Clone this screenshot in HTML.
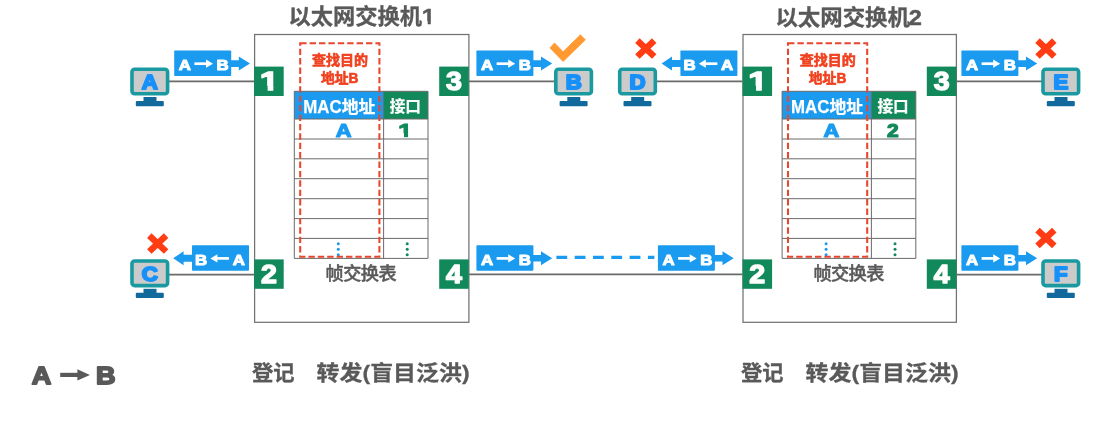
<!DOCTYPE html>
<html lang="zh-CN"><head><meta charset="utf-8"><title>以太网交换机 帧交换表</title>
<style>
html,body{margin:0;padding:0;background:#fff;}
body{width:1094px;height:442px;overflow:hidden;font-family:"Liberation Sans","Noto Sans CJK SC",sans-serif;}
text{font-family:"Liberation Sans","Noto Sans CJK SC",sans-serif;}
svg{display:block;position:absolute;left:0;top:0;filter:blur(0.5px);}
</style></head><body>
<svg width="1094" height="442" viewBox="0 0 1094 442">
<rect width="1094" height="442" fill="#fff"/>
<path d="M168 81.4H254.0" stroke="#6a6a6a" stroke-width="1.6" fill="none"/>
<path d="M168 274.6H254.0" stroke="#6a6a6a" stroke-width="1.6" fill="none"/>
<path d="M469.0 81.4H556" stroke="#6a6a6a" stroke-width="1.6" fill="none"/>
<path d="M469.0 274.4H742.4" stroke="#6a6a6a" stroke-width="1.6" fill="none"/>
<path d="M656 81.4H742.4" stroke="#6a6a6a" stroke-width="1.6" fill="none"/>
<path d="M955.4 81.4H1043" stroke="#6a6a6a" stroke-width="1.6" fill="none"/>
<path d="M955.4 274.6H1043" stroke="#6a6a6a" stroke-width="1.6" fill="none"/>
<rect x="254.6" y="34.5" width="214.3" height="287.8" fill="#fff" stroke="#727272" stroke-width="1.25"/>
<text x="288.50" y="24.4" font-weight="700" font-size="21.5" fill="#595959" stroke="#595959" stroke-width="0.3" textLength="133.5" lengthAdjust="spacingAndGlyphs">以太网交换机</text>
<clipPath id="k1"><path d="M-8.72 -19.62H1.87V0.55H-0.82V-3.47H-8.72Z"/></clipPath>
<g transform="translate(428.65 24.40) scale(1.150 1)"><text clip-path="url(#k1)" x="0" y="0" text-anchor="middle" font-weight="700" font-size="21.8" fill="#595959" stroke="#595959" stroke-width="0.5" stroke-linejoin="round">1</text></g>
<rect x="294.3" y="91.3" width="89.3" height="27.700000000000003" fill="#1a9bf0"/>
<rect x="383.6" y="91.3" width="44.39999999999999" height="27.700000000000003" fill="#12895a"/>
<text x="339.3" y="112.7" text-anchor="middle" font-weight="700" font-size="17.5" fill="#fff" stroke="#fff" stroke-width="0.25" textLength="72" lengthAdjust="spacingAndGlyphs">MAC地址</text>
<text x="405.3" y="112.1" text-anchor="middle" font-weight="700" font-size="15.5" fill="#fff" stroke="#fff" stroke-width="0.25" textLength="31.3" lengthAdjust="spacingAndGlyphs">接口</text>
<path d="M294.3 119H428.0M294.3 139H428.0M294.3 158.8H428.0M294.3 178.7H428.0M294.3 198.7H428.0M294.3 218.6H428.0M294.3 238.4H428.0M294.3 258.4H428.0M294.3 91.3V258.4M383.6 91.3V258.4M428.0 91.3V258.4M294.3 91.3H428.0" stroke="#6a6a6a" stroke-width="1" fill="none"/>
<text transform="translate(343.60 136.70) scale(1.2 1)" x="0" y="0" text-anchor="middle" font-weight="700" font-size="18.2" fill="#1a9bf0" stroke="#1a9bf0" stroke-width="1.2" stroke-linejoin="round">A</text>
<clipPath id="k2"><path d="M-7.28 -16.38H1.88V0.90H-1.01V-3.46H-7.28Z"/></clipPath>
<g transform="translate(405.45 136.70) scale(1.438 1)"><text clip-path="url(#k2)" x="0" y="0" text-anchor="middle" font-weight="700" font-size="18.2" fill="#12895a" stroke="#12895a" stroke-width="1.2" stroke-linejoin="round">1</text></g>
<circle cx="338.3" cy="243.7" r="1.5" fill="#1a9bf0"/>
<circle cx="407.20000000000005" cy="243.7" r="1.5" fill="#12895a"/>
<circle cx="338.3" cy="249.2" r="1.5" fill="#1a9bf0"/>
<circle cx="407.20000000000005" cy="249.2" r="1.5" fill="#12895a"/>
<circle cx="338.3" cy="254.7" r="1.5" fill="#1a9bf0"/>
<circle cx="407.20000000000005" cy="254.7" r="1.5" fill="#12895a"/>
<rect x="300.2" y="43.3" width="79.2" height="213.4" fill="none" stroke="#e8462e" stroke-width="2.05" stroke-dasharray="6.4 3"/>
<text x="340.0" y="65.2" text-anchor="middle" font-weight="700" font-size="14" fill="#f0411f" stroke="#f0411f" stroke-width="0.6" textLength="56" lengthAdjust="spacingAndGlyphs">查找目的</text>
<text x="339.8" y="83.2" text-anchor="middle" font-weight="700" font-size="14" fill="#f0411f" stroke="#f0411f" stroke-width="0.6" textLength="37.5" lengthAdjust="spacingAndGlyphs">地址B</text>
<text x="361.1" y="280.4" text-anchor="middle" font-weight="500" font-size="18.2" fill="#595959" stroke="#595959" stroke-width="0.45" textLength="71" lengthAdjust="spacing">帧交换表</text>
<rect x="743.0" y="34.5" width="213.4" height="287.8" fill="#fff" stroke="#727272" stroke-width="1.25"/>
<text x="775.40" y="24.5" font-weight="700" font-size="21.6" fill="#595959" stroke="#595959" stroke-width="0.3" textLength="134.6" lengthAdjust="spacingAndGlyphs">以太网交换机</text>
<text transform="translate(915.30 24.50) scale(1.08 1)" x="0" y="0" text-anchor="middle" font-weight="700" font-size="21.8" fill="#595959" stroke="#595959" stroke-width="0.5" stroke-linejoin="round">2</text>
<rect x="782.0999999999999" y="91.3" width="89.3" height="27.700000000000003" fill="#1a9bf0"/>
<rect x="871.3999999999999" y="91.3" width="44.39999999999999" height="27.700000000000003" fill="#12895a"/>
<text x="827.0999999999999" y="112.7" text-anchor="middle" font-weight="700" font-size="17.5" fill="#fff" stroke="#fff" stroke-width="0.25" textLength="72" lengthAdjust="spacingAndGlyphs">MAC地址</text>
<text x="893.0999999999999" y="112.1" text-anchor="middle" font-weight="700" font-size="15.5" fill="#fff" stroke="#fff" stroke-width="0.25" textLength="31.3" lengthAdjust="spacingAndGlyphs">接口</text>
<path d="M782.0999999999999 119H915.8M782.0999999999999 139H915.8M782.0999999999999 158.8H915.8M782.0999999999999 178.7H915.8M782.0999999999999 198.7H915.8M782.0999999999999 218.6H915.8M782.0999999999999 238.4H915.8M782.0999999999999 258.4H915.8M782.0999999999999 91.3V258.4M871.3999999999999 91.3V258.4M915.8 91.3V258.4M782.0999999999999 91.3H915.8" stroke="#6a6a6a" stroke-width="1" fill="none"/>
<text transform="translate(831.40 136.70) scale(1.2 1)" x="0" y="0" text-anchor="middle" font-weight="700" font-size="18.2" fill="#1a9bf0" stroke="#1a9bf0" stroke-width="1.2" stroke-linejoin="round">A</text>
<text transform="translate(892.70 136.70) scale(1.15 1)" x="0" y="0" text-anchor="middle" font-weight="700" font-size="18.2" fill="#12895a" stroke="#12895a" stroke-width="1.2" stroke-linejoin="round">2</text>
<circle cx="826.0999999999999" cy="243.7" r="1.5" fill="#1a9bf0"/>
<circle cx="894.9999999999999" cy="243.7" r="1.5" fill="#12895a"/>
<circle cx="826.0999999999999" cy="249.2" r="1.5" fill="#1a9bf0"/>
<circle cx="894.9999999999999" cy="249.2" r="1.5" fill="#12895a"/>
<circle cx="826.0999999999999" cy="254.7" r="1.5" fill="#1a9bf0"/>
<circle cx="894.9999999999999" cy="254.7" r="1.5" fill="#12895a"/>
<rect x="788.0" y="43.3" width="79.2" height="213.4" fill="none" stroke="#e8462e" stroke-width="2.05" stroke-dasharray="6.4 3"/>
<text x="827.8" y="65.2" text-anchor="middle" font-weight="700" font-size="14" fill="#f0411f" stroke="#f0411f" stroke-width="0.6" textLength="56" lengthAdjust="spacingAndGlyphs">查找目的</text>
<text x="827.5999999999999" y="83.2" text-anchor="middle" font-weight="700" font-size="14" fill="#f0411f" stroke="#f0411f" stroke-width="0.6" textLength="37.5" lengthAdjust="spacingAndGlyphs">地址B</text>
<text x="848.9" y="280.4" text-anchor="middle" font-weight="500" font-size="18.2" fill="#595959" stroke="#595959" stroke-width="0.45" textLength="71" lengthAdjust="spacing">帧交换表</text>
<rect x="254.1" y="66.6" width="29.6" height="29.4" fill="#12895a"/>
<clipPath id="k3"><path d="M-10.60 -23.85H2.75V1.00H-1.48V-4.40H-10.60Z"/></clipPath>
<g transform="translate(269.69 90.30) scale(1.350 1)"><text clip-path="url(#k3)" x="0" y="0" text-anchor="middle" font-weight="700" font-size="26.5" fill="#fff" stroke="#fff" stroke-width="1.4" stroke-linejoin="round">1</text></g>
<rect x="254.1" y="259.4" width="29.6" height="29.4" fill="#12895a"/>
<text transform="translate(268.90 283.10) scale(1.08 1)" x="0" y="0" text-anchor="middle" font-weight="700" font-size="26.5" fill="#fff" stroke="#fff" stroke-width="1.4" stroke-linejoin="round">2</text>
<rect x="439.2" y="66.6" width="29.6" height="29.4" fill="#12895a"/>
<text transform="translate(454.00 90.30) scale(1.08 1)" x="0" y="0" text-anchor="middle" font-weight="700" font-size="26.5" fill="#fff" stroke="#fff" stroke-width="1.4" stroke-linejoin="round">3</text>
<rect x="439.2" y="259.4" width="29.6" height="29.4" fill="#12895a"/>
<text transform="translate(454.00 283.10) scale(1.08 1)" x="0" y="0" text-anchor="middle" font-weight="700" font-size="26.5" fill="#fff" stroke="#fff" stroke-width="1.4" stroke-linejoin="round">4</text>
<rect x="742.5" y="66.6" width="29.6" height="29.4" fill="#12895a"/>
<clipPath id="k4"><path d="M-10.60 -23.85H2.75V1.00H-1.48V-4.40H-10.60Z"/></clipPath>
<g transform="translate(758.09 90.30) scale(1.350 1)"><text clip-path="url(#k4)" x="0" y="0" text-anchor="middle" font-weight="700" font-size="26.5" fill="#fff" stroke="#fff" stroke-width="1.4" stroke-linejoin="round">1</text></g>
<rect x="742.5" y="259.4" width="29.6" height="29.4" fill="#12895a"/>
<text transform="translate(757.30 283.10) scale(1.08 1)" x="0" y="0" text-anchor="middle" font-weight="700" font-size="26.5" fill="#fff" stroke="#fff" stroke-width="1.4" stroke-linejoin="round">2</text>
<rect x="926.8" y="66.6" width="29.6" height="29.4" fill="#12895a"/>
<text transform="translate(941.60 90.30) scale(1.08 1)" x="0" y="0" text-anchor="middle" font-weight="700" font-size="26.5" fill="#fff" stroke="#fff" stroke-width="1.4" stroke-linejoin="round">3</text>
<rect x="926.8" y="259.4" width="29.6" height="29.4" fill="#12895a"/>
<text transform="translate(941.60 283.10) scale(1.08 1)" x="0" y="0" text-anchor="middle" font-weight="700" font-size="26.5" fill="#fff" stroke="#fff" stroke-width="1.4" stroke-linejoin="round">4</text>
<g transform="translate(130.2,67.4)">
<rect x="1.8" y="1.8" width="35.6" height="24.6" rx="2.6" fill="#cbcbcb" stroke="#1a9aa0" stroke-width="3.6"/>
<rect x="13.3" y="29.6" width="13" height="4.6" fill="#126a9c"/>
<rect x="5.6" y="33.6" width="28" height="5.2" rx="1" fill="#126a9c"/>
<text transform="translate(19.70 21.30) scale(1.06 1)" x="0" y="0" text-anchor="middle" font-weight="700" font-size="21" fill="#1890fa" stroke="#1890fa" stroke-width="2.0" stroke-linejoin="round">A</text>
</g>
<g transform="translate(130.2,259.2)">
<rect x="1.8" y="1.8" width="35.6" height="24.6" rx="2.6" fill="#cbcbcb" stroke="#1a9aa0" stroke-width="3.6"/>
<rect x="13.3" y="29.6" width="13" height="4.6" fill="#126a9c"/>
<rect x="5.6" y="33.6" width="28" height="5.2" rx="1" fill="#126a9c"/>
<text transform="translate(19.70 21.30) scale(1.06 1)" x="0" y="0" text-anchor="middle" font-weight="700" font-size="21" fill="#1890fa" stroke="#1890fa" stroke-width="2.0" stroke-linejoin="round">C</text>
</g>
<g transform="translate(554,67.4)">
<rect x="1.8" y="1.8" width="35.6" height="24.6" rx="2.6" fill="#cbcbcb" stroke="#1a9aa0" stroke-width="3.6"/>
<rect x="13.3" y="29.6" width="13" height="4.6" fill="#126a9c"/>
<rect x="5.6" y="33.6" width="28" height="5.2" rx="1" fill="#126a9c"/>
<text transform="translate(19.70 21.30) scale(1.06 1)" x="0" y="0" text-anchor="middle" font-weight="700" font-size="21" fill="#1890fa" stroke="#1890fa" stroke-width="2.0" stroke-linejoin="round">B</text>
</g>
<g transform="translate(617.9,67.4)">
<rect x="1.8" y="1.8" width="35.6" height="24.6" rx="2.6" fill="#cbcbcb" stroke="#1a9aa0" stroke-width="3.6"/>
<rect x="13.3" y="29.6" width="13" height="4.6" fill="#126a9c"/>
<rect x="5.6" y="33.6" width="28" height="5.2" rx="1" fill="#126a9c"/>
<text transform="translate(19.70 21.30) scale(1.06 1)" x="0" y="0" text-anchor="middle" font-weight="700" font-size="21" fill="#1890fa" stroke="#1890fa" stroke-width="2.0" stroke-linejoin="round">D</text>
</g>
<g transform="translate(1041.2,67.4)">
<rect x="1.8" y="1.8" width="35.6" height="24.6" rx="2.6" fill="#cbcbcb" stroke="#1a9aa0" stroke-width="3.6"/>
<rect x="13.3" y="29.6" width="13" height="4.6" fill="#126a9c"/>
<rect x="5.6" y="33.6" width="28" height="5.2" rx="1" fill="#126a9c"/>
<text transform="translate(19.70 21.30) scale(1.06 1)" x="0" y="0" text-anchor="middle" font-weight="700" font-size="21" fill="#1890fa" stroke="#1890fa" stroke-width="2.0" stroke-linejoin="round">E</text>
</g>
<g transform="translate(1041.2,259.2)">
<rect x="1.8" y="1.8" width="35.6" height="24.6" rx="2.6" fill="#cbcbcb" stroke="#1a9aa0" stroke-width="3.6"/>
<rect x="13.3" y="29.6" width="13" height="4.6" fill="#126a9c"/>
<rect x="5.6" y="33.6" width="28" height="5.2" rx="1" fill="#126a9c"/>
<text transform="translate(19.70 21.30) scale(1.06 1)" x="0" y="0" text-anchor="middle" font-weight="700" font-size="21" fill="#1890fa" stroke="#1890fa" stroke-width="2.0" stroke-linejoin="round">F</text>
</g>
<rect x="174.2" y="50.5" width="57" height="25.6" rx="0.8" fill="#1a9bf0"/>
<path d="M230.2 60.20H238.80V56.50L250.00 63.60L238.80 70.60V66.90H230.2Z" fill="#1a9bf0"/>
<text transform="translate(184.80 70.20) scale(1.1 1)" x="0" y="0" text-anchor="middle" font-weight="700" font-size="15.3" fill="#fff" stroke="#fff" stroke-width="1.0" stroke-linejoin="round">A</text>
<text transform="translate(222.60 70.20) scale(1.1 1)" x="0" y="0" text-anchor="middle" font-weight="700" font-size="15.3" fill="#fff" stroke="#fff" stroke-width="1.0" stroke-linejoin="round">B</text>
<path d="M194.40 63.70H208.00" stroke="#fff" stroke-width="2.7" fill="none"/><path d="M206.00 59.60L213.00 63.70L206.00 67.80Z" fill="#fff"/>
<rect x="192" y="245.2" width="57" height="25.6" rx="0.8" fill="#1a9bf0"/>
<path d="M193 254.70H183.60V251.20L173.20 258.20L183.60 265.20V261.70H193Z" fill="#1a9bf0"/>
<text transform="translate(201.20 264.90) scale(1.1 1)" x="0" y="0" text-anchor="middle" font-weight="700" font-size="15.3" fill="#fff" stroke="#fff" stroke-width="1.0" stroke-linejoin="round">B</text>
<text transform="translate(238.80 264.90) scale(1.1 1)" x="0" y="0" text-anchor="middle" font-weight="700" font-size="15.3" fill="#fff" stroke="#fff" stroke-width="1.0" stroke-linejoin="round">A</text>
<path d="M229.00 258.40H215.40" stroke="#fff" stroke-width="2.7" fill="none"/><path d="M217.40 254.30L210.40 258.40L217.40 262.50Z" fill="#fff"/>
<rect x="476.4" y="50.5" width="57" height="25.6" rx="0.8" fill="#1a9bf0"/>
<path d="M532.4 60.20H541.00V56.50L552.20 63.60L541.00 70.60V66.90H532.4Z" fill="#1a9bf0"/>
<text transform="translate(487.00 70.20) scale(1.1 1)" x="0" y="0" text-anchor="middle" font-weight="700" font-size="15.3" fill="#fff" stroke="#fff" stroke-width="1.0" stroke-linejoin="round">A</text>
<text transform="translate(524.80 70.20) scale(1.1 1)" x="0" y="0" text-anchor="middle" font-weight="700" font-size="15.3" fill="#fff" stroke="#fff" stroke-width="1.0" stroke-linejoin="round">B</text>
<path d="M496.60 63.70H510.20" stroke="#fff" stroke-width="2.7" fill="none"/><path d="M508.20 59.60L515.20 63.70L508.20 67.80Z" fill="#fff"/>
<rect x="680.4" y="50.5" width="57" height="25.6" rx="0.8" fill="#1a9bf0"/>
<path d="M681.4 60.00H672.00V56.50L661.60 63.50L672.00 70.50V67.00H681.4Z" fill="#1a9bf0"/>
<text transform="translate(689.60 70.20) scale(1.1 1)" x="0" y="0" text-anchor="middle" font-weight="700" font-size="15.3" fill="#fff" stroke="#fff" stroke-width="1.0" stroke-linejoin="round">B</text>
<text transform="translate(727.20 70.20) scale(1.1 1)" x="0" y="0" text-anchor="middle" font-weight="700" font-size="15.3" fill="#fff" stroke="#fff" stroke-width="1.0" stroke-linejoin="round">A</text>
<path d="M717.40 63.70H703.80" stroke="#fff" stroke-width="2.7" fill="none"/><path d="M705.80 59.60L698.80 63.70L705.80 67.80Z" fill="#fff"/>
<rect x="476.4" y="245.2" width="57" height="25.6" rx="0.8" fill="#1a9bf0"/>
<path d="M532.4 254.90H541.00V251.20L552.20 258.30L541.00 265.30V261.60H532.4Z" fill="#1a9bf0"/>
<text transform="translate(487.00 264.90) scale(1.1 1)" x="0" y="0" text-anchor="middle" font-weight="700" font-size="15.3" fill="#fff" stroke="#fff" stroke-width="1.0" stroke-linejoin="round">A</text>
<text transform="translate(524.80 264.90) scale(1.1 1)" x="0" y="0" text-anchor="middle" font-weight="700" font-size="15.3" fill="#fff" stroke="#fff" stroke-width="1.0" stroke-linejoin="round">B</text>
<path d="M496.60 258.40H510.20" stroke="#fff" stroke-width="2.7" fill="none"/><path d="M508.20 254.30L515.20 258.40L508.20 262.50Z" fill="#fff"/>
<rect x="657.9" y="245.2" width="57" height="25.6" rx="0.8" fill="#1a9bf0"/>
<path d="M713.9 254.90H722.50V251.20L733.70 258.30L722.50 265.30V261.60H713.9Z" fill="#1a9bf0"/>
<text transform="translate(668.50 264.90) scale(1.1 1)" x="0" y="0" text-anchor="middle" font-weight="700" font-size="15.3" fill="#fff" stroke="#fff" stroke-width="1.0" stroke-linejoin="round">A</text>
<text transform="translate(706.30 264.90) scale(1.1 1)" x="0" y="0" text-anchor="middle" font-weight="700" font-size="15.3" fill="#fff" stroke="#fff" stroke-width="1.0" stroke-linejoin="round">B</text>
<path d="M678.10 258.40H691.70" stroke="#fff" stroke-width="2.7" fill="none"/><path d="M689.70 254.30L696.70 258.40L689.70 262.50Z" fill="#fff"/>
<rect x="961.4" y="50.5" width="57" height="25.6" rx="0.8" fill="#1a9bf0"/>
<path d="M1017.4 60.20H1026.00V56.50L1037.20 63.60L1026.00 70.60V66.90H1017.4Z" fill="#1a9bf0"/>
<text transform="translate(972.00 70.20) scale(1.1 1)" x="0" y="0" text-anchor="middle" font-weight="700" font-size="15.3" fill="#fff" stroke="#fff" stroke-width="1.0" stroke-linejoin="round">A</text>
<text transform="translate(1009.80 70.20) scale(1.1 1)" x="0" y="0" text-anchor="middle" font-weight="700" font-size="15.3" fill="#fff" stroke="#fff" stroke-width="1.0" stroke-linejoin="round">B</text>
<path d="M981.60 63.70H995.20" stroke="#fff" stroke-width="2.7" fill="none"/><path d="M993.20 59.60L1000.20 63.70L993.20 67.80Z" fill="#fff"/>
<rect x="961.4" y="245.2" width="57" height="25.6" rx="0.8" fill="#1a9bf0"/>
<path d="M1017.4 254.90H1026.00V251.20L1037.20 258.30L1026.00 265.30V261.60H1017.4Z" fill="#1a9bf0"/>
<text transform="translate(972.00 264.90) scale(1.1 1)" x="0" y="0" text-anchor="middle" font-weight="700" font-size="15.3" fill="#fff" stroke="#fff" stroke-width="1.0" stroke-linejoin="round">A</text>
<text transform="translate(1009.80 264.90) scale(1.1 1)" x="0" y="0" text-anchor="middle" font-weight="700" font-size="15.3" fill="#fff" stroke="#fff" stroke-width="1.0" stroke-linejoin="round">B</text>
<path d="M981.60 258.40H995.20" stroke="#fff" stroke-width="2.7" fill="none"/><path d="M993.20 254.30L1000.20 258.40L993.20 262.50Z" fill="#fff"/>
<path d="M556.4 257.4H654.4" stroke="#1a9bf0" stroke-width="3.1" stroke-dasharray="10.8 7.5" fill="none"/>
<path d="M149.30 235.70L166.10 251.50M166.10 235.70L149.30 251.50" stroke="#ff3c14" stroke-width="6.5" fill="none"/>
<path d="M637.40 40.70L654.20 56.50M654.20 40.70L637.40 56.50" stroke="#ff3c14" stroke-width="6.5" fill="none"/>
<path d="M1037.50 40.70L1054.30 56.50M1054.30 40.70L1037.50 56.50" stroke="#ff3c14" stroke-width="6.5" fill="none"/>
<path d="M1037.50 230.10L1054.30 245.90M1054.30 230.10L1037.50 245.90" stroke="#ff3c14" stroke-width="6.5" fill="none"/>
<path d="M554.5 42.9L549.9 47.9L563.1 61.5L585.4 39.8L580.4 34.8L563.1 51.8Z" fill="#ff9a33" stroke="#ff9a33" stroke-width="0.8" stroke-linejoin="round"/>
<text transform="translate(41.40 384.10) scale(1.1 1)" x="0" y="0" text-anchor="middle" font-weight="700" font-size="24.6" fill="#595959" stroke="#595959" stroke-width="1.8" stroke-linejoin="round">A</text>
<text transform="translate(105.80 384.10) scale(1.1 1)" x="0" y="0" text-anchor="middle" font-weight="700" font-size="24.6" fill="#595959" stroke="#595959" stroke-width="1.8" stroke-linejoin="round">B</text>
<path d="M60.2 374.9H80" stroke="#595959" stroke-width="4.2" fill="none"/><path d="M77.4 369.2L89.9 374.9L77.4 380.6Z" fill="#595959"/>
<text x="252" y="379.7" font-weight="700" font-size="20.9" fill="#595959" stroke="#595959" stroke-width="0.3" textLength="42.6" lengthAdjust="spacingAndGlyphs">登记</text>
<text x="316.6" y="379.7" font-weight="700" font-size="20.9" fill="#595959" stroke="#595959" stroke-width="0.3" textLength="153" lengthAdjust="spacingAndGlyphs">转发(盲目泛洪)</text>
<text x="741" y="379.7" font-weight="700" font-size="20.9" fill="#595959" stroke="#595959" stroke-width="0.3" textLength="42.6" lengthAdjust="spacingAndGlyphs">登记</text>
<text x="805.6" y="379.7" font-weight="700" font-size="20.9" fill="#595959" stroke="#595959" stroke-width="0.3" textLength="153" lengthAdjust="spacingAndGlyphs">转发(盲目泛洪)</text>
</svg>
</body></html>
